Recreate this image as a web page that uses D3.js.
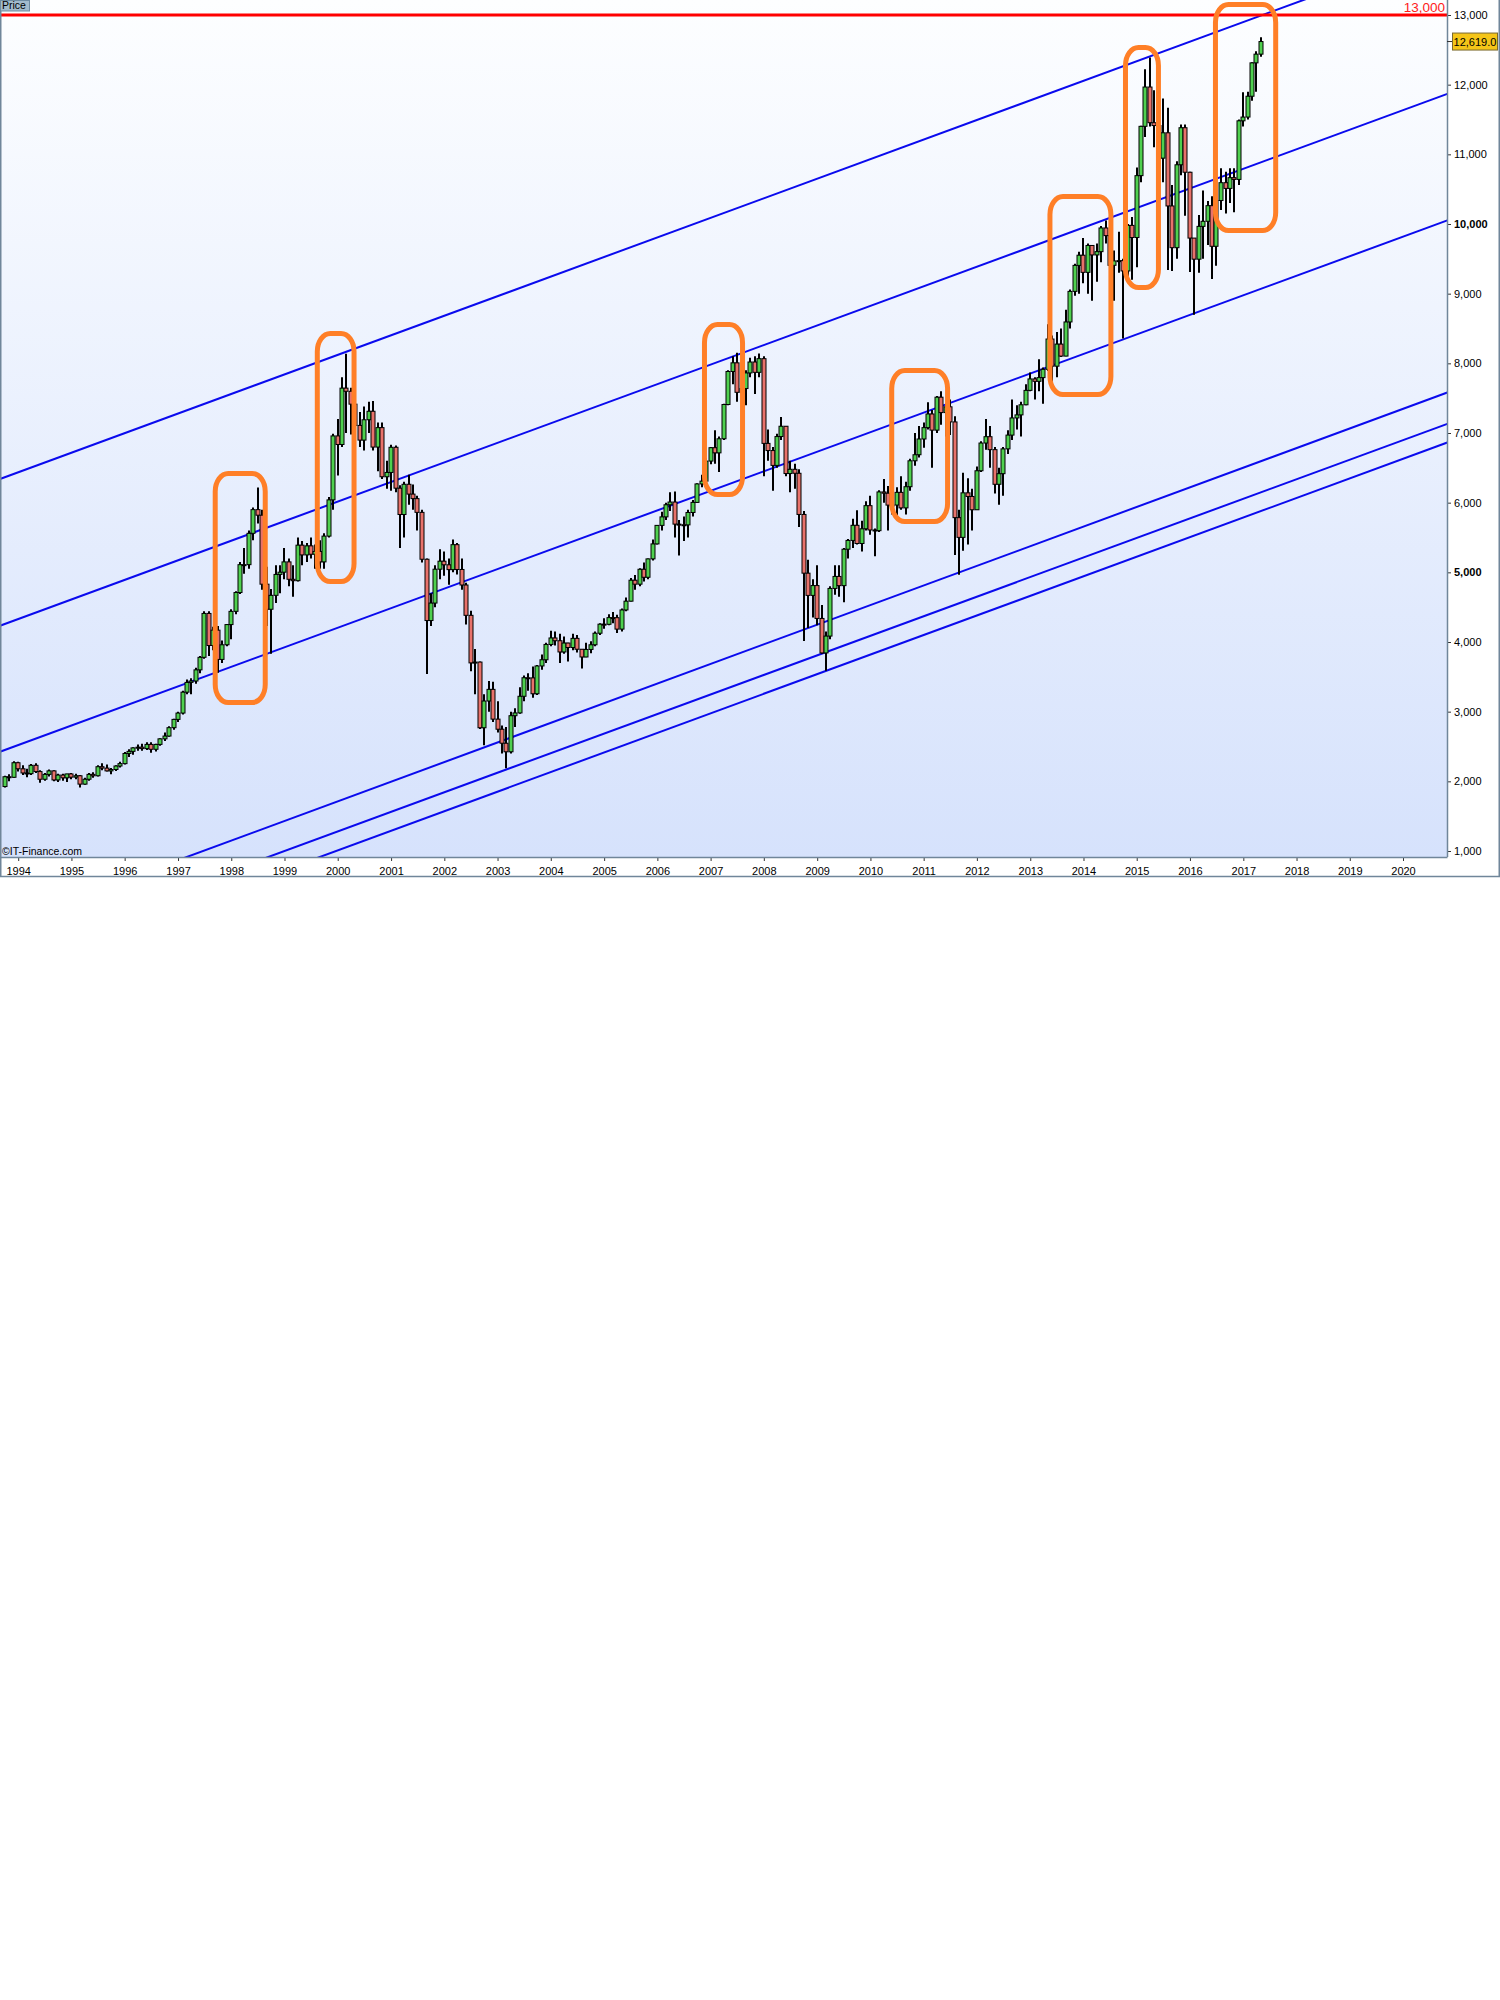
<!DOCTYPE html>
<html><head><meta charset="utf-8">
<script src="https://cdn.jsdelivr.net/npm/d3@7"></script>
<style>
html,body{margin:0;padding:0;background:#fff;}
svg{display:block;font-family:"Liberation Sans",Arial,sans-serif;}
</style>
</head><body>
<svg id="chart" width="1500" height="2000"></svg>
<script>
// ---------- DATA (monthly candles, first candle = Oct 1993) ----------
const firstMonth = "1993-10-01";
const open = [
1925,2066,2058,
2267,2180,2120,2110,2230,2140,2030,2100,2150,2020,2090,2050,
2106,2060,2080,1960,2030,2100,2080,2210,2190,2150,2170,2220,
2254,2400,2430,2480,2490,2470,2530,2460,2530,2610,2650,2770,
2889,2980,3280,3420,3440,3600,3780,4410,3950,4170,3750,3960,
4250,4440,4710,5110,5110,5560,5900,5820,4830,4470,4670,4970,
5002,5150,4900,4880,5390,5250,5380,5260,5300,5150,5520,6040,
6958,6835,7644,7599,7414,7109,6898,7190,7312,6798,7077,6372,
6434,6795,6208,5830,6264,6123,6058,5861,5188,4308,4559,5045,
5160,5108,5039,5397,5041,4818,4383,3700,3712,2769,3153,3320,
2893,2748,2547,2424,2942,2982,3221,3487,3485,3257,3656,3745,
3965,4058,4018,3857,3985,3921,4052,3896,3785,3893,3960,4126,
4256,4254,4350,4349,4185,4460,4586,4887,4830,5044,4929,5193,
5408,5674,5796,5970,6009,5692,5683,5681,5859,6004,6269,6309,
6597,6789,6715,6917,7409,7883,8007,7584,7638,7862,8019,7871,
8067,6851,6748,6535,6949,7097,6418,6479,6422,5831,4988,4669,
4810,4338,3843,4085,4769,4941,4809,5332,5458,5675,5414,5625,
5957,5608,5598,6154,6136,5965,5966,6148,5925,6229,6601,6688,
6914,7077,7273,7041,7514,7293,7376,7159,5785,5502,6141,6089,
5898,6458,6856,6947,6761,6264,6416,6772,6970,7216,7260,7405,
7612,7776,7742,7795,7914,8349,7959,8276,8104,8594,9033,9406,
9552,9306,9692,9556,9603,9943,9833,9407,9470,9474,9326,9980,
9806,10694,11402,11966,11454,11413,10945,11309,10259,9660,10850,11382,
10743,9798,9495,9966,10039,10263,9680,10337,10593,10511,10665,10640,
11481,11535,11834,12313,12438
];
const high = [
2080,2100,2290,
2282,2230,2180,2250,2260,2160,2120,2170,2160,2110,2110,2110,
2120,2110,2090,2050,2120,2130,2230,2260,2240,2190,2230,2280,
2420,2460,2490,2530,2540,2560,2560,2540,2620,2700,2790,2900,
3000,3300,3460,3480,3630,3800,4440,4440,4220,4230,4020,4260,
4470,4730,5150,5350,5600,5930,6218,5900,5080,4760,5100,5100,
5350,5200,5100,5500,5450,5420,5500,5400,5460,5560,6080,6990,
7200,7800,8136,7650,7560,7300,7380,7450,7460,7150,7150,6600,
6830,6820,6250,6300,6400,6260,6100,5900,5200,4700,5100,5330,
5300,5200,5470,5420,5200,4850,4450,3900,3720,3250,3440,3430,
3150,2800,2780,3000,3050,3350,3520,3550,3650,3670,3820,3990,
4160,4150,4120,4080,3990,4120,4100,3900,3990,4010,4150,4270,
4340,4400,4430,4390,4480,4640,4920,4960,5060,5140,5200,5470,
5680,5870,6000,6150,6160,5750,5800,5900,6040,6280,6400,6640,
6800,7040,6950,7420,7900,8100,8152,7700,7900,8080,8100,8140,
8100,7050,6800,6990,7230,7100,6600,6560,6480,5880,5180,4900,
5100,4530,4150,4800,5100,5100,5350,5480,5770,5890,5740,6020,
6100,5630,6180,6340,6240,6290,6220,6380,6300,6630,7000,7100,
7150,7440,7330,7530,7600,7420,7480,7240,5900,6430,6350,6200,
6520,6880,7200,7100,6800,6500,6800,7040,7480,7400,7450,7700,
7870,7800,8060,7940,8560,8400,8450,8500,8770,9060,9430,9600,
9800,9720,9700,9720,9970,10050,10030,9620,9890,9500,10000,10100,
10810,11410,12220,12391,11920,11650,11800,11670,10560,10900,11430,11430,
10750,9800,10130,10480,10330,10400,10400,10800,10750,10800,10800,11500,
11890,11900,12320,12480,12680
];
const low = [
1910,2000,2050,
2140,2090,2060,2090,2120,1980,2010,2070,2000,1990,2010,1990,
2030,2030,1910,1950,2010,2050,2070,2160,2140,2100,2150,2200,
2240,2350,2380,2440,2440,2450,2410,2430,2510,2580,2640,2740,
2850,2960,3250,3250,3400,3550,3760,3800,3880,3560,3700,3940,
4040,4400,4690,4980,5050,5460,5700,4750,4230,3833,4560,4700,
4900,4800,4650,4870,5100,5150,5200,5050,5050,5050,5500,5900,
6390,6800,7000,6980,6830,6800,6750,7000,6750,6450,6340,6200,
6170,6150,5350,5500,5970,5900,5600,5140,3539,4230,4500,4900,
4950,4820,5000,4970,4750,4250,3580,3250,2750,2519,3000,2850,
2700,2400,2189,2400,2780,2970,3150,3300,3200,3240,3600,3700,
3940,3950,3700,3830,3720,3880,3850,3618,3780,3840,3940,4100,
4190,4240,4270,4130,4150,4440,4580,4750,4800,4870,4900,5170,
5400,5600,5750,5880,5500,5243,5450,5500,5800,6000,6220,6250,
6550,6560,6440,6900,7400,7700,7450,7190,7400,7800,7560,7800,
6380,6600,6170,6500,6900,6380,6150,6200,5650,4014,4200,4350,
4240,3830,3589,4040,4680,4650,4570,5200,5350,5400,5300,5600,
5540,5230,5580,6000,5600,5830,5780,5900,5830,6170,6530,6650,
6790,7050,6500,7000,7120,6950,6970,5250,4966,5310,5400,5600,
5900,6440,6760,6500,6130,5970,6100,6700,6900,7050,6950,7400,
7600,7480,7600,7420,7890,7650,7800,8090,8100,8500,8970,9000,
9150,9000,8900,9170,9450,9720,9400,8900,9300,8355,9200,9200,
9380,10600,11250,11400,11100,10800,10600,9338,9325,9500,10700,10120,
9310,8699,9300,9500,9700,9210,9400,10200,10150,10300,10170,10560,
11400,11500,11770,11900,12400
];
const close = [
2066,2058,2267,
2180,2120,2110,2230,2140,2030,2100,2150,2020,2090,2050,2106,
2060,2080,1960,2030,2100,2080,2210,2190,2150,2170,2220,2254,
2400,2430,2480,2490,2470,2530,2460,2530,2610,2650,2770,2889,
2980,3280,3420,3440,3600,3780,4410,3950,4170,3750,3960,4250,
4440,4710,5110,5110,5560,5900,5820,4830,4470,4670,4970,5002,
5150,4900,4880,5390,5250,5380,5260,5300,5150,5520,6040,6958,
6835,7644,7599,7414,7109,6898,7190,7312,6798,7077,6372,6434,
6795,6208,5830,6264,6123,6058,5861,5188,4308,4559,5045,5160,
5108,5039,5397,5041,4818,4383,3700,3712,2769,3153,3320,2893,
2748,2547,2424,2942,2982,3221,3487,3485,3257,3656,3745,3965,
4058,4018,3857,3985,3921,4052,3896,3785,3893,3960,4126,4256,
4254,4350,4349,4185,4460,4586,4887,4830,5044,4929,5193,5408,
5674,5796,5970,6009,5692,5683,5681,5859,6004,6269,6309,6597,
6789,6715,6917,7409,7883,8007,7584,7638,7862,8019,7871,8067,
6851,6748,6535,6949,7097,6418,6479,6422,5831,4988,4669,4810,
4338,3843,4085,4769,4941,4809,5332,5458,5675,5414,5625,5957,
5608,5598,6154,6136,5965,5966,6148,5925,6229,6601,6688,6914,
7077,7273,7041,7514,7293,7376,7159,5785,5502,6141,6089,5898,
6458,6856,6947,6761,6264,6416,6772,6970,7216,7260,7405,7612,
7776,7742,7795,7914,8349,7959,8276,8104,8594,9033,9406,9552,
9306,9692,9556,9603,9943,9833,9407,9470,9474,9326,9980,9806,
10694,11402,11966,11454,11413,10945,11309,10259,9660,10850,11382,10743,
9798,9495,9966,10039,10263,9680,10337,10593,10511,10665,10640,11481,
11535,11834,12313,12438,12619
];

// Axis ticks
const yearTicks = [1994,1995,1996,1997,1998,1999,2000,2001,2002,2003,2004,2005,2006,2007,2008,2009,2010,2011,2012,2013,2014,2015,2016,2017,2018,2019,2020];
const priceTicks = [1000,2000,3000,4000,5000,6000,7000,8000,9000,10000,11000,12000,13000];
const boldTicks = [5000,10000];

// Trend channel lines: price at 1993-01-01 and at 2021-01-01
const trendStartDate = "1993-01-01", trendEndDate = "2021-01-01";
const trendStartPrice = [6155, 4049, 2241, -259, -685, -958];
const trendEndPrice   = [14022, 11916, 10099, 7629, 7179, 6911];

// Horizontal resistance
const resistance = 13000;
const lastPrice = 12619.0;

// Orange highlight boxes
const boxFrom = ["1997-09-13","1999-08-14","2006-11-20","2010-05-27","2013-05-16","2014-10-16","2016-06-24"];
const boxTo   = ["1998-08-22","2000-04-22","2007-08-08","2011-06-14","2014-07-08","2015-05-30","2017-08-11"];
const boxTop  = [6419, 8428, 8557, 7897, 10395, 12534, 13151];
const boxBot  = [3132, 4868, 6117, 5730, 7553, 9089, 9907];

// ---------- DRAW ----------
const svg = d3.select("#chart");
const P = {left:1, right:1447, top:0, bottom:857};
const parse = d3.timeParse("%Y-%m-%d");

const x = d3.scaleTime().domain([new Date(1994,0,1), new Date(2020,0,1)]).range([18.2, 1403]);
const y = d3.scaleLinear().domain([1000,13000]).range([851,15]);

const start = parse(firstMonth);
const candles = close.map((c,i)=>({date:d3.timeMonth.offset(start,i), o:open[i], h:high[i], l:low[i], c:c}));

const defs = svg.append("defs");
const grad = defs.append("linearGradient").attr("id","bg").attr("x1",0).attr("y1",0).attr("x2",0).attr("y2",1);
grad.append("stop").attr("offset","0%").attr("stop-color","#fdfeff");
grad.append("stop").attr("offset","100%").attr("stop-color","#d6e2fc");
defs.append("clipPath").attr("id","clip").append("rect")
  .attr("x",P.left).attr("y",P.top).attr("width",P.right-P.left).attr("height",P.bottom-P.top);

svg.append("rect").attr("width",1500).attr("height",2000).attr("fill","#fff");
svg.append("rect").attr("x",P.left).attr("y",P.top).attr("width",P.right-P.left).attr("height",P.bottom-P.top).attr("fill","url(#bg)");

const plot = svg.append("g").attr("clip-path","url(#clip)");

// trend lines
plot.selectAll("line.trend").data(trendStartPrice).join("line").attr("class","trend")
  .attr("x1",x(parse(trendStartDate))).attr("x2",x(parse(trendEndDate)))
  .attr("y1",d=>y(d)).attr("y2",(d,i)=>y(trendEndPrice[i]))
  .attr("stroke","#0a0aee").attr("stroke-width",2);

// candles
const bw = 3;
const cg = plot.append("g");
cg.selectAll("line.wick").data(candles).join("line").attr("class","wick")
  .attr("x1",d=>Math.round(x(d.date))).attr("x2",d=>Math.round(x(d.date)))
  .attr("y1",d=>y(d.h)).attr("y2",d=>y(d.l))
  .attr("stroke","#000").attr("stroke-width",2);
cg.selectAll("rect.body").data(candles).join("rect").attr("class","body")
  .attr("x",d=>Math.round(x(d.date))-bw/2-0.5).attr("width",bw+1)
  .attr("y",d=>y(Math.max(d.o,d.c)))
  .attr("height",d=>Math.max(1,Math.abs(y(d.o)-y(d.c))))
  .attr("fill",d=>d.c>=d.o?"#4fd04f":"#e8726b")
  .attr("stroke","#000").attr("stroke-width",1);

// resistance line
plot.append("line").attr("x1",P.left).attr("x2",P.right).attr("y1",y(resistance)).attr("y2",y(resistance))
  .attr("stroke","#ff0000").attr("stroke-width",3);

// orange boxes
plot.selectAll("rect.box").data(boxFrom).join("rect").attr("class","box")
  .attr("x",d=>x(parse(d)))
  .attr("width",(d,i)=>x(parse(boxTo[i]))-x(parse(d)))
  .attr("y",(d,i)=>y(boxTop[i]))
  .attr("height",(d,i)=>y(boxBot[i])-y(boxTop[i]))
  .attr("rx",13).attr("ry",18)
  .attr("fill","none").attr("stroke","#ff7f27").attr("stroke-width",5);

// resistance label
svg.append("text").attr("x",1445).attr("y",12).attr("text-anchor","end")
  .attr("fill","#ff2020").attr("font-size","13.5px").text(d3.format(",")(resistance));

// copyright
svg.append("text").attr("x",2).attr("y",855).attr("font-size","10.5px").attr("fill","#000").text("©IT-Finance.com");

// axes
const axisCol = "#70869a";
const yAxis = svg.append("g").attr("transform",`translate(${P.right},0)`)
  .call(d3.axisRight(y).tickValues(priceTicks).tickSize(4).tickPadding(3).tickFormat(d3.format(",")));
yAxis.select(".domain").remove();
yAxis.selectAll(".tick line").attr("stroke","#333");
yAxis.selectAll(".tick text").attr("font-size","11px").attr("fill","#000")
  .attr("font-family","'Liberation Sans',Arial,sans-serif")
  .attr("font-weight",d=>boldTicks.includes(d)?"bold":"normal");

const xAxis = svg.append("g").attr("transform",`translate(0,${P.bottom})`)
  .call(d3.axisBottom(x).tickValues(yearTicks.map(v=>new Date(v,0,1))).tickSize(4).tickPadding(6).tickFormat(d3.timeFormat("%Y")));
xAxis.select(".domain").remove();
xAxis.selectAll(".tick line").attr("stroke","#333");
xAxis.selectAll(".tick text").attr("font-size","11px").attr("fill","#000")
  .attr("font-family","'Liberation Sans',Arial,sans-serif");

// frame lines
const frame = svg.append("g").attr("stroke",axisCol).attr("stroke-width",1.5).attr("fill","none");
frame.append("line").attr("x1",0.75).attr("x2",0.75).attr("y1",11).attr("y2",877);
frame.append("line").attr("x1",P.right+0.5).attr("x2",P.right+0.5).attr("y1",0).attr("y2",P.bottom);
frame.append("line").attr("x1",0).attr("x2",P.right+0.5).attr("y1",P.bottom+0.5).attr("y2",P.bottom+0.5);
frame.append("line").attr("x1",0).attr("x2",1500).attr("y1",876.5).attr("y2",876.5);
frame.append("line").attr("x1",1499.25).attr("x2",1499.25).attr("y1",0).attr("y2",877);

// "Price" tag
svg.append("rect").attr("x",0.5).attr("y",0.5).attr("width",29).attr("height",10.5)
  .attr("fill","#a2bbcc").attr("stroke","#6e8ca2").attr("stroke-width",1);
svg.append("text").attr("x",2).attr("y",9).attr("font-size","10.5px").attr("fill","#000").text("Price");

// last price tag
const ly = y(lastPrice);
svg.append("line").attr("x1",P.right).attr("x2",P.right+5).attr("y1",ly).attr("y2",ly).attr("stroke","#333");
svg.append("rect").attr("x",1452.5).attr("y",ly-8.5).attr("width",45).attr("height",17)
  .attr("fill","#f5c518").attr("stroke","#7a6a30").attr("stroke-width",1);
svg.append("text").attr("x",1475).attr("y",ly+4).attr("text-anchor","middle")
  .attr("font-size","11px").attr("fill","#000").text(d3.format(",.1f")(lastPrice));
</script>
</body></html>
